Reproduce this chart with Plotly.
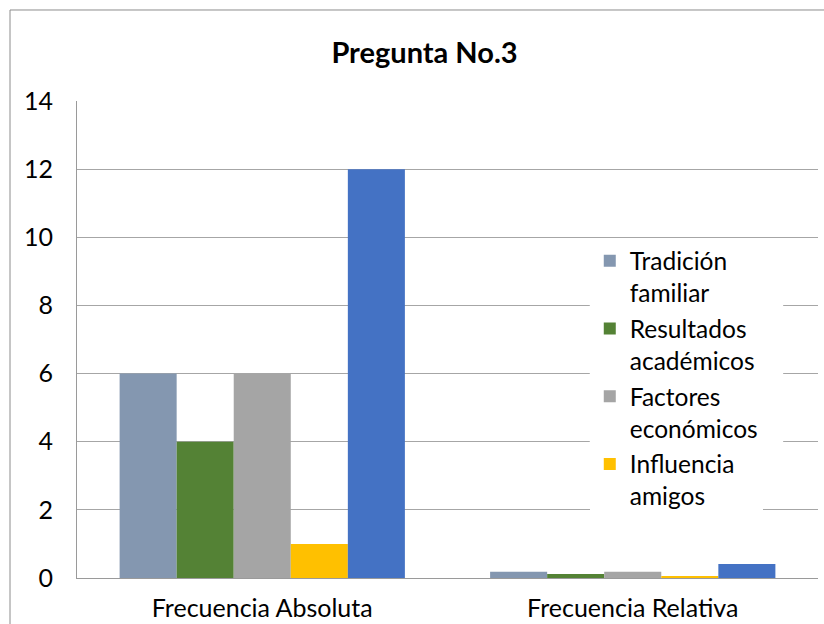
import plotly.graph_objects as go

categories = ["Frecuencia Absoluta", "Frecuencia Relativa"]
series_names = ["Tradición<br>familiar", "Resultados<br>académicos", "Factores<br>económicos", "Influencia<br>amigos", "Total"]
tradicion = [6, 0.18]
resultados = [4, 0.12]
factores = [6, 0.18]
influencia = [1, 0.03]
total = [12, 0.41]
colors = ["#8497B0", "#548235", "#A5A5A5", "#FFC000", "#4472C4"]
show = [True, True, True, True, False]
y_ticks = [0, 2, 4, 6, 8, 10, 12, 14]

FONT = "Lato"
fig = go.Figure()
for i, (name, vals) in enumerate(zip(series_names, [tradicion, resultados, factores, influencia, total])):
    fig.add_trace(go.Bar(
        x=categories, y=vals, name=name, marker_color=colors[i],
        marker_line_width=0, showlegend=show[i], legendgroup=f"g{i}",
    ))

fig.update_layout(
    width=824, height=624,
    margin=dict(l=77, r=6, t=101, b=46, autoexpand=False),
    paper_bgcolor="white", plot_bgcolor="white",
    barmode="group", bargap=0.23, bargroupgap=0,
    font=dict(family=FONT, size=25, color="#000000"),
    title=dict(text="<b>Pregunta No.3</b>", x=0.469, xanchor="center", xref="paper",
               y=0.916, yanchor="middle", font=dict(family=FONT, size=29, color="#000000")),
    legend=dict(x=0.692, y=0.712, xanchor="left", yanchor="top", bgcolor="white",
                font=dict(family=FONT, size=24.5), traceorder="grouped", tracegroupgap=1,
                valign="top", itemwidth=30),
    xaxis=dict(showline=True, linecolor="#9a9a9a", linewidth=1, ticks="", showgrid=False,
               tickfont=dict(size=25), ticklabelstandoff=8, automargin=False),
    yaxis=dict(range=[0, 14], tickvals=y_ticks, showgrid=True, gridcolor="#a6a6a6", gridwidth=1,
               showline=True, linecolor="#9a9a9a", linewidth=1, ticks="", zeroline=False,
               tickfont=dict(size=25), ticklabelstandoff=18, automargin=False),
    shapes=[
        dict(type="rect", xref="paper", yref="paper", x0=-0.0904, x1=1.02, y0=-0.2, y1=1.1908,
             line=dict(color="#8c8c8c", width=1), fillcolor="rgba(0,0,0,0)", layer="below"),
        dict(type="rect", xref="paper", yref="paper", x0=0.692, x1=0.953, y0=0.155, y1=0.709,
             line=dict(width=0), fillcolor="white", layer="above"),
    ],
)
fig.write_html("out.html", post_script="document.body.style.margin='0';",
               config={"displayModeBar": False})
